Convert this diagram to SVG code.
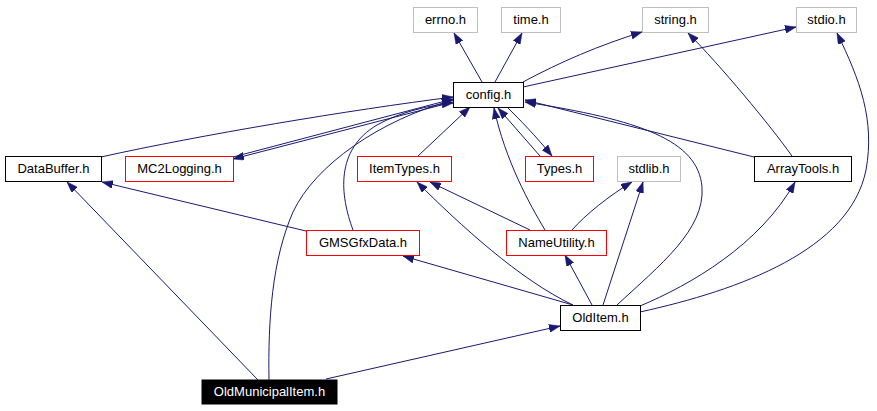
<svg xmlns="http://www.w3.org/2000/svg" width="877" height="411" viewBox="0 0 877 411">
<style>
.n rect{fill:#fff;stroke-width:1}
.k rect{stroke:#000}
.r rect{stroke:#ff0000}
.g rect{stroke:#bfbfbf}
.n text{font-family:"Liberation Sans",Arial,sans-serif;font-size:13px;text-anchor:middle;fill:#000}
#edges path{fill:none;stroke:#191970;stroke-width:1;marker-end:url(#a)}
</style>
<defs>
<marker id="a" viewBox="0 0 11 8" refX="11" refY="4" markerWidth="11" markerHeight="8" orient="auto" markerUnits="userSpaceOnUse">
<path d="M0,0 L11,4 L0,8 z" fill="#191970" stroke="#191970" stroke-width="0.5"/>
</marker>
</defs>
<rect width="877" height="411" fill="#fff"/>
<g id="edges">
<path d="M326,379 L560,326"/>
<path d="M258,380 L67,182"/>
<path d="M269,380 C268,320 272,260 293,212 C315,165 380,120 453,100"/>
<path d="M101,157 C200,135 350,110 453,97"/>
<path d="M233,157 L453,99"/>
<path d="M453,102 L233,159"/>
<path d="M353,230 C340,195 335,150 377,125 C400,112 430,105 453,103"/>
<path d="M306,231 L102,182"/>
<path d="M418,156 L470,107"/>
<path d="M545,230 C530,205 505,160 494,108"/>
<path d="M540,156 L498,108"/>
<path d="M507,107 C520,120 535,135 552,156"/>
<path d="M530,230 L430,182"/>
<path d="M572,230 C585,215 610,195 632,182"/>
<path d="M603,305 L643,182"/>
<path d="M617,305 C660,265 705,230 702,187 C698,140 640,120 525,102"/>
<path d="M754,157 L525,100"/>
<path d="M792,156 C770,125 720,65 688,33"/>
<path d="M640,306 C690,285 760,245 795,182"/>
<path d="M640,312 C740,290 850,250 866,170 C875,120 860,80 837,33"/>
<path d="M592,305 L565,255"/>
<path d="M573,305 C520,280 460,225 417,182"/>
<path d="M573,305 L403,256"/>
<path d="M482,82 L454,33"/>
<path d="M495,82 L522,33"/>
<path d="M523,82 C560,62 600,45 642,32"/>
<path d="M523,87 L796,27"/>
</g>
<g id="errno" class="n g"><rect x="413.5" y="7.5" width="64" height="25"/><text x="445.5" y="24">errno.h</text></g>
<g id="time" class="n g"><rect x="501.5" y="7.5" width="59" height="25"/><text x="531" y="24">time.h</text></g>
<g id="string" class="n g"><rect x="642.5" y="7.5" width="66" height="25"/><text x="675.5" y="24">string.h</text></g>
<g id="stdio" class="n g"><rect x="796.5" y="7.5" width="60" height="25"/><text x="826.5" y="24">stdio.h</text></g>
<g id="config" class="n k"><rect x="453.5" y="82.5" width="70" height="25"/><text x="488.5" y="99">config.h</text></g>
<g id="DataBuffer" class="n k"><rect x="5.5" y="156.5" width="96" height="25"/><text x="53.5" y="173">DataBuffer.h</text></g>
<g id="MC2Logging" class="n r"><rect x="125.5" y="156.5" width="108" height="25"/><text x="179.5" y="173">MC2Logging.h</text></g>
<g id="ItemTypes" class="n r"><rect x="357.5" y="156.5" width="94" height="25"/><text x="404.5" y="173">ItemTypes.h</text></g>
<g id="Types" class="n r"><rect x="525.5" y="156.5" width="68" height="25"/><text x="559.5" y="173">Types.h</text></g>
<g id="stdlib" class="n g"><rect x="617.5" y="156.5" width="63" height="25"/><text x="649" y="173">stdlib.h</text></g>
<g id="ArrayTools" class="n k"><rect x="754.5" y="156.5" width="97" height="25"/><text x="803" y="173">ArrayTools.h</text></g>
<g id="GMSGfxData" class="n r"><rect x="306.5" y="230.5" width="113" height="25"/><text x="363" y="247">GMSGfxData.h</text></g>
<g id="NameUtility" class="n r"><rect x="506.5" y="230.5" width="100" height="25"/><text x="556.5" y="247">NameUtility.h</text></g>
<g id="OldItem" class="n k"><rect x="560.5" y="305.5" width="80" height="25"/><text x="600.5" y="322">OldItem.h</text></g>
<g id="OldMunicipalItem" class="n"><rect x="202" y="380" width="135" height="24" fill="#000" style="fill:#000;stroke:#000"/><text x="269.5" y="396" style="fill:#fff">OldMunicipalItem.h</text></g>
</svg>
